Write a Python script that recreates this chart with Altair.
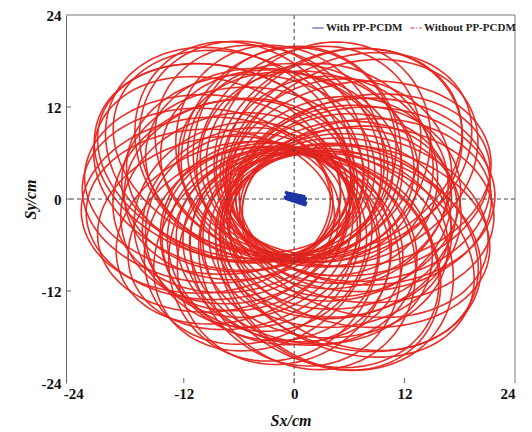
import altair as alt
import numpy as np
import pandas as pd

# ---------------- values ----------------
x_ticks = [-24, -12, 0, 12, 24]
y_ticks = [-24, -12, 0, 12, 24]
inner_ticks = [-12, 0, 12]

series_names = ["With PP-PCDM", "Without PP-PCDM"]
series_colors = ["#1d34a3", "#b0282a"]

# centre of the red rosette (cm)
center_x, center_y = -0.6, -0.8

# each red loop: direction of its offset (deg), offset (cm), major / minor semi-axes (cm), tilt of major axis (deg)
loop_dir = [0, 8, 18, 28, 38, 45, 52, 62, 72, 82, 90, 98, 108, 118, 128, 135, 142, 152, 162, 172, 180, 188,
            198, 210, 222, 232, 244, 256, 266, 276, 286, 296, 306, 315, 322, 332, 342, 352, 14, 48, 124, 140, 300, 318,
            5, 17, 30, 41, 57, 66, 77, 88, 103, 113, 131, 146, 158, 169, 184, 196, 207, 219, 236, 248, 259, 271,
            282, 293, 308, 319, 328, 338, 347, 357]
loop_offset = [8.5, 8.6, 8.5, 8.7, 9.0, 9.2, 8.9, 7.8, 7.1, 6.7, 6.6, 6.8, 7.2, 8.0, 8.9, 9.3, 9.1, 8.8, 8.7, 8.9, 9.0, 8.6,
               8.0, 7.2, 6.5, 6.4, 6.4, 6.5, 6.7, 6.9, 7.3, 8.0, 8.9, 9.2, 9.0, 8.7, 8.6, 8.7, 8.3, 8.8, 8.6, 8.9, 8.6, 9.0,
               6.0, 5.6, 6.3, 5.8, 6.2, 5.5, 5.9, 5.4, 5.7, 6.1, 6.3, 6.0, 5.6, 6.2, 5.8, 5.3, 5.0, 5.2, 4.9, 5.4, 5.6, 5.5,
               5.9, 6.2, 6.3, 6.0, 5.7, 6.1, 5.8, 5.5]
loop_major = [13.6, 13.9, 14.2, 14.5, 14.8, 14.9, 14.6, 14.6, 14.3, 14.1, 14.0, 14.2, 14.5, 14.7, 14.8, 15.0, 14.8, 14.4,
              14.0, 13.7, 13.6, 13.5, 13.4, 13.4, 13.4, 13.5, 13.9, 14.1, 14.2, 14.3, 14.6, 14.8, 14.8, 15.0, 14.8, 14.4,
              14.0, 13.7, 13.9, 14.6, 14.6, 14.9, 14.7, 14.9,
              13.2, 12.8, 13.4, 13.0, 13.3, 12.7, 13.1, 12.6, 12.9, 13.3, 13.5, 13.2, 12.8, 13.4, 13.0, 12.6, 12.5, 12.7,
              12.4, 12.8, 13.0, 12.9, 13.2, 13.4, 13.5, 13.2, 12.9, 13.3, 13.0, 12.8]
loop_minor = [11.2, 11.6, 11.4, 11.9, 12.0, 11.7, 12.1, 11.5, 11.8, 11.3, 11.6, 11.2, 11.7, 12.0, 11.8, 12.2, 11.9, 11.5,
              11.6, 11.3, 11.4, 11.1, 11.2, 10.9, 11.0, 11.3, 11.1, 11.4, 11.5, 11.2, 11.6, 11.9, 12.1, 11.8, 12.0, 11.6,
              11.4, 11.5, 11.9, 12.2, 11.4, 11.6, 11.5, 12.3,
              12.0, 11.7, 12.2, 11.8, 12.3, 11.6, 11.9, 11.5, 11.8, 12.1, 12.3, 12.0, 11.7, 12.2, 11.9, 11.4, 11.3, 11.5,
              11.2, 11.6, 11.8, 11.7, 12.0, 12.2, 12.3, 12.0, 11.7, 12.1, 11.9, 11.6]
loop_tilt = [10, 0, 23, 16, 45, 45, 46, 74, 68, 91, 80, 101, 116, 113, 139, 128, 146, 143, 168, 169, 190, 177,
             200, 218, 216, 244, 240, 261, 258, 285, 284, 303, 296, 318, 316, 343, 333, 356, 9, 56, 112, 146, 297, 328,
             40, 60, 75, 95, 100, 118, 125, 140, 150, 160, 175, 190, 200, 215, 225, 240, 250, 265, 275, 290, 300, 315,
             320, 335, 350, 5, 15, 25, 35, 45]

# blue trace (with PP-PCDM), a tiny band near the origin
blue_x = [-1.0, 1.3, -0.9, 1.4, -1.1, 1.2, -0.8, 1.3, -1.0, 1.1, -0.6, 1.4]
blue_y = [0.9, -0.1, 0.5, -0.6, 0.2, 0.3, 0.8, -0.8, 0.1, -0.4, 0.6, 0.0]

# ---------------- tables ----------------
t = np.linspace(0, 2 * np.pi, 121)
rows = []
for i, (ang, d, a, b, tl) in enumerate(zip(loop_dir, loop_offset, loop_major, loop_minor, loop_tilt)):
    th = np.deg2rad(ang)
    ph = np.deg2rad(tl)
    cx = center_x + d * np.cos(th)
    cy = center_y + d * np.sin(th)
    ex = a * np.cos(t)
    ey = b * np.sin(t)
    xs = cx + ex * np.cos(ph) - ey * np.sin(ph)
    ys = cy + ex * np.sin(ph) + ey * np.cos(ph)
    for k in range(len(t)):
        rows.append({"loop": i, "order": k, "x": round(float(xs[k]), 2), "y": round(float(ys[k]), 2),
                     "series": series_names[1]})
red = pd.DataFrame(rows)
blue = pd.DataFrame({"x": blue_x, "y": blue_y, "order": list(range(len(blue_x))), "series": series_names[0]})
zero = pd.DataFrame({"v": [0]})
ticks_df = pd.DataFrame({"v": inner_ticks})

W, H = 449, 368
FONT = "Liberation Serif"
LBL = "'' + datum.value"

xscale = alt.Scale(domain=[-24.8, 24], nice=False, zero=False)
yscale = alt.Scale(domain=[-24, 24], nice=False, zero=False)

xaxis = alt.Axis(values=x_ticks, title="Sx/cm", grid=False, ticks=False, domain=False, labelExpr=LBL,
                 labelFont=FONT, labelFontWeight="bold", labelFontSize=15, labelColor="#111",
                 labelPadding=3, titleFont=FONT, titleFontStyle="italic", titleFontWeight="bold",
                 titleFontSize=16, titleColor="#111", titleY=37, titleBaseline="middle")
yaxis = alt.Axis(values=y_ticks, title="Sy/cm", grid=False, ticks=False, domain=True, domainColor="#666",
                 domainWidth=1, labelExpr=LBL, labelFont=FONT, labelFontWeight="bold", labelFontSize=15,
                 labelColor="#111", labelPadding=5, titleFont=FONT, titleFontStyle="italic",
                 titleFontWeight="bold", titleFontSize=16, titleColor="#111", titleX=-36, titleY=184,
                 titleBaseline="middle")

color_enc = alt.Color("series:N", scale=alt.Scale(domain=series_names, range=series_colors), title=None,
                      legend=alt.Legend(orient="none", legendX=245, legendY=6, direction="horizontal",
                                        symbolType="stroke", symbolStrokeWidth=2, symbolSize=130,
                                        labelFont=FONT, labelFontWeight="bold", labelFontSize=11,
                                        labelColor="#222", columnPadding=3, labelOffset=1, padding=0))
dash_enc = alt.StrokeDash("series:N", scale=alt.Scale(domain=series_names, range=[[1, 0], [4, 2, 1, 2]]),
                          title=None, legend=None)

base_red = alt.Chart(red).mark_line(color="#f0261f", strokeWidth=1.6, opacity=0.95).encode(
    x=alt.X("x:Q", scale=xscale, axis=xaxis),
    y=alt.Y("y:Q", scale=yscale, axis=yaxis),
    detail="loop:N", order="order:Q")

dash_red = alt.Chart(red).mark_line(strokeWidth=0.6, opacity=0.45).encode(
    x=alt.X("x:Q", scale=xscale, axis=xaxis),
    y=alt.Y("y:Q", scale=yscale, axis=yaxis),
    detail="loop:N", order="order:Q", color=color_enc, strokeDash=dash_enc)

hzero = alt.Chart(zero).mark_rule(color="#444", strokeWidth=1, strokeDash=[4, 3]).encode(
    y=alt.Y("v:Q", scale=yscale, axis=yaxis))
vzero = alt.Chart(zero).mark_rule(color="#444", strokeWidth=1, strokeDash=[4, 3]).encode(
    x=alt.X("v:Q", scale=xscale, axis=xaxis))

blue_line = alt.Chart(blue).mark_line(strokeWidth=3.2).encode(
    x=alt.X("x:Q", scale=xscale, axis=xaxis),
    y=alt.Y("y:Q", scale=yscale, axis=yaxis),
    order="order:Q", color=color_enc, strokeDash=dash_enc)

top_line = alt.Chart(zero).mark_rule(color="#777", strokeWidth=1).encode(
    x=alt.value(0), x2=alt.value(W), y=alt.value(0))
right_line = alt.Chart(zero).mark_rule(color="#777", strokeWidth=1).encode(
    x=alt.value(W), y=alt.value(0), y2=alt.value(H))
xt = alt.Chart(ticks_df).mark_rule(color="#666", strokeWidth=1).encode(
    x=alt.X("v:Q", scale=xscale, axis=xaxis), y=alt.value(H), y2=alt.value(H - 5))
yt = alt.Chart(ticks_df).mark_rule(color="#666", strokeWidth=1).encode(
    y=alt.Y("v:Q", scale=yscale, axis=yaxis), x=alt.value(0), x2=alt.value(5))

chart = alt.layer(base_red, dash_red, hzero, vzero, blue_line, top_line, right_line, xt, yt).properties(
    width=W, height=H,
    autosize=alt.AutoSizeParams(type="none"),
    padding={"left": 66, "top": 15, "right": 17, "bottom": 49},
    background="white",
).configure_view(stroke=None)

chart.save("out.html", embed_options={"renderer": "svg", "actions": False})
